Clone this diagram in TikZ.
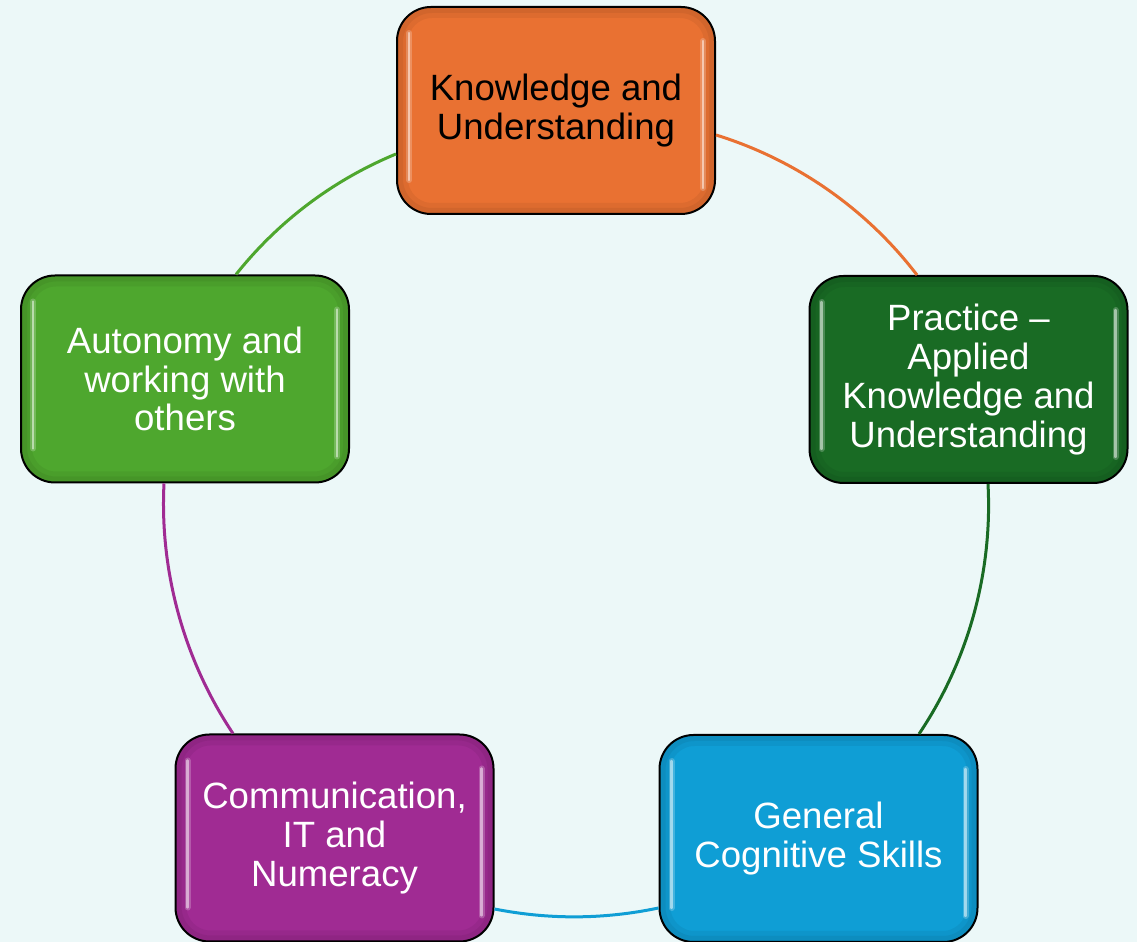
\documentclass[tikz,border=0pt]{standalone}
\usepackage{fontspec}
\setmainfont{Liberation Sans}
\usetikzlibrary{calc}

\definecolor{bgcol}{HTML}{ECF8F8}
\definecolor{accOrange}{HTML}{E97132}
\definecolor{accDkGreen}{HTML}{196B24}
\definecolor{accBlue}{HTML}{0F9ED5}
\definecolor{accPurple}{HTML}{A02B93}
\definecolor{accGreen}{HTML}{4EA72E}

\tikzset{
  glossbox/.style={
    draw=black, line width=1pt, fill=#1,
    rounded corners=17pt,
    minimum width=159pt, minimum height=103.5pt,
    inner sep=4pt, align=center, text=white,
    font=\fontsize{18.3pt}{19.4pt}\selectfont,
    path picture={
      % soft darker rim inside the border
      \draw[black, opacity=0.05, line width=6pt, rounded corners=15pt]
        ([shift={(2.5pt,2.5pt)}]path picture bounding box.south west)
        rectangle ([shift={(-2.5pt,-2.5pt)}]path picture bounding box.north east);
      \draw[black, opacity=0.05, line width=3pt, rounded corners=16pt]
        ([shift={(1.5pt,1.5pt)}]path picture bounding box.south west)
        rectangle ([shift={(-1.5pt,-1.5pt)}]path picture bounding box.north east);
      % glossy highlight strips near the side edges
      \draw[white, opacity=0.22, line width=3pt, line cap=round]
        ([shift={(6pt,-13pt)}]path picture bounding box.north west)
        -- ([shift={(6pt,17pt)}]path picture bounding box.south west);
      \draw[white, opacity=0.5, line width=1.2pt, line cap=round]
        ([shift={(6pt,-13pt)}]path picture bounding box.north west)
        -- ([shift={(6pt,17pt)}]path picture bounding box.south west);
      \draw[white, opacity=0.22, line width=3pt, line cap=round]
        ([shift={(-6pt,-17pt)}]path picture bounding box.north east)
        -- ([shift={(-6pt,13pt)}]path picture bounding box.south east);
      \draw[white, opacity=0.5, line width=1.2pt, line cap=round]
        ([shift={(-6pt,-17pt)}]path picture bounding box.north east)
        -- ([shift={(-6pt,13pt)}]path picture bounding box.south east);
    }
  },
  cyclearc/.style={draw=#1, line width=1.5pt, bend left, looseness=0.87}
}

\begin{document}
\begin{tikzpicture}[x=0.5pt,y=0.5pt]
  \useasboundingbox (0,0) rectangle (1137,942);
  \fill[bgcol] (0,0) rectangle (1137,942);

  % the five stages of the cycle
  \node[glossbox=accOrange, text=black] (K) at (556,831.5)
    {Knowledge and\\Understanding};
  \node[glossbox=accDkGreen] (P) at (968.5,562.5)
    {Practice –\\Applied\\Knowledge and\\Understanding};
  \node[glossbox=accBlue] (G) at (818.5,103.5)
    {General\\Cognitive Skills};
  \node[glossbox=accPurple] (C) at (334.5,104)
    {Communication,\\IT and\\Numeracy};
  \node[glossbox=accGreen, minimum width=164pt] (A) at (185,563)
    {Autonomy and\\working with\\others};

  % arc connectors around the cycle
  \draw[cyclearc=accOrange, bend left=17.7]
    ($(K.east)+(0,-24.5)$) to ($(P.north)+(-51.5,0)$);
  \draw[cyclearc=accDkGreen, bend left=18.5]
    ($(P.south)+(19.5,0)$) to ($(G.north)+(100.5,0)$);
  \draw[cyclearc=accBlue, bend left=11.5]
    ($(G.west)+(0,-69.5)$) to ($(C.east)+(0,-71)$);
  \draw[cyclearc=accPurple, bend left=18.3]
    ($(C.north)+(-101.5,0)$) to ($(A.south)+(-21,0)$);
  \draw[cyclearc=accGreen, bend left=14.5]
    ($(A.north)+(51,0)$) to ($(K.west)+(0,-43.5)$);
\end{tikzpicture}
\end{document}
